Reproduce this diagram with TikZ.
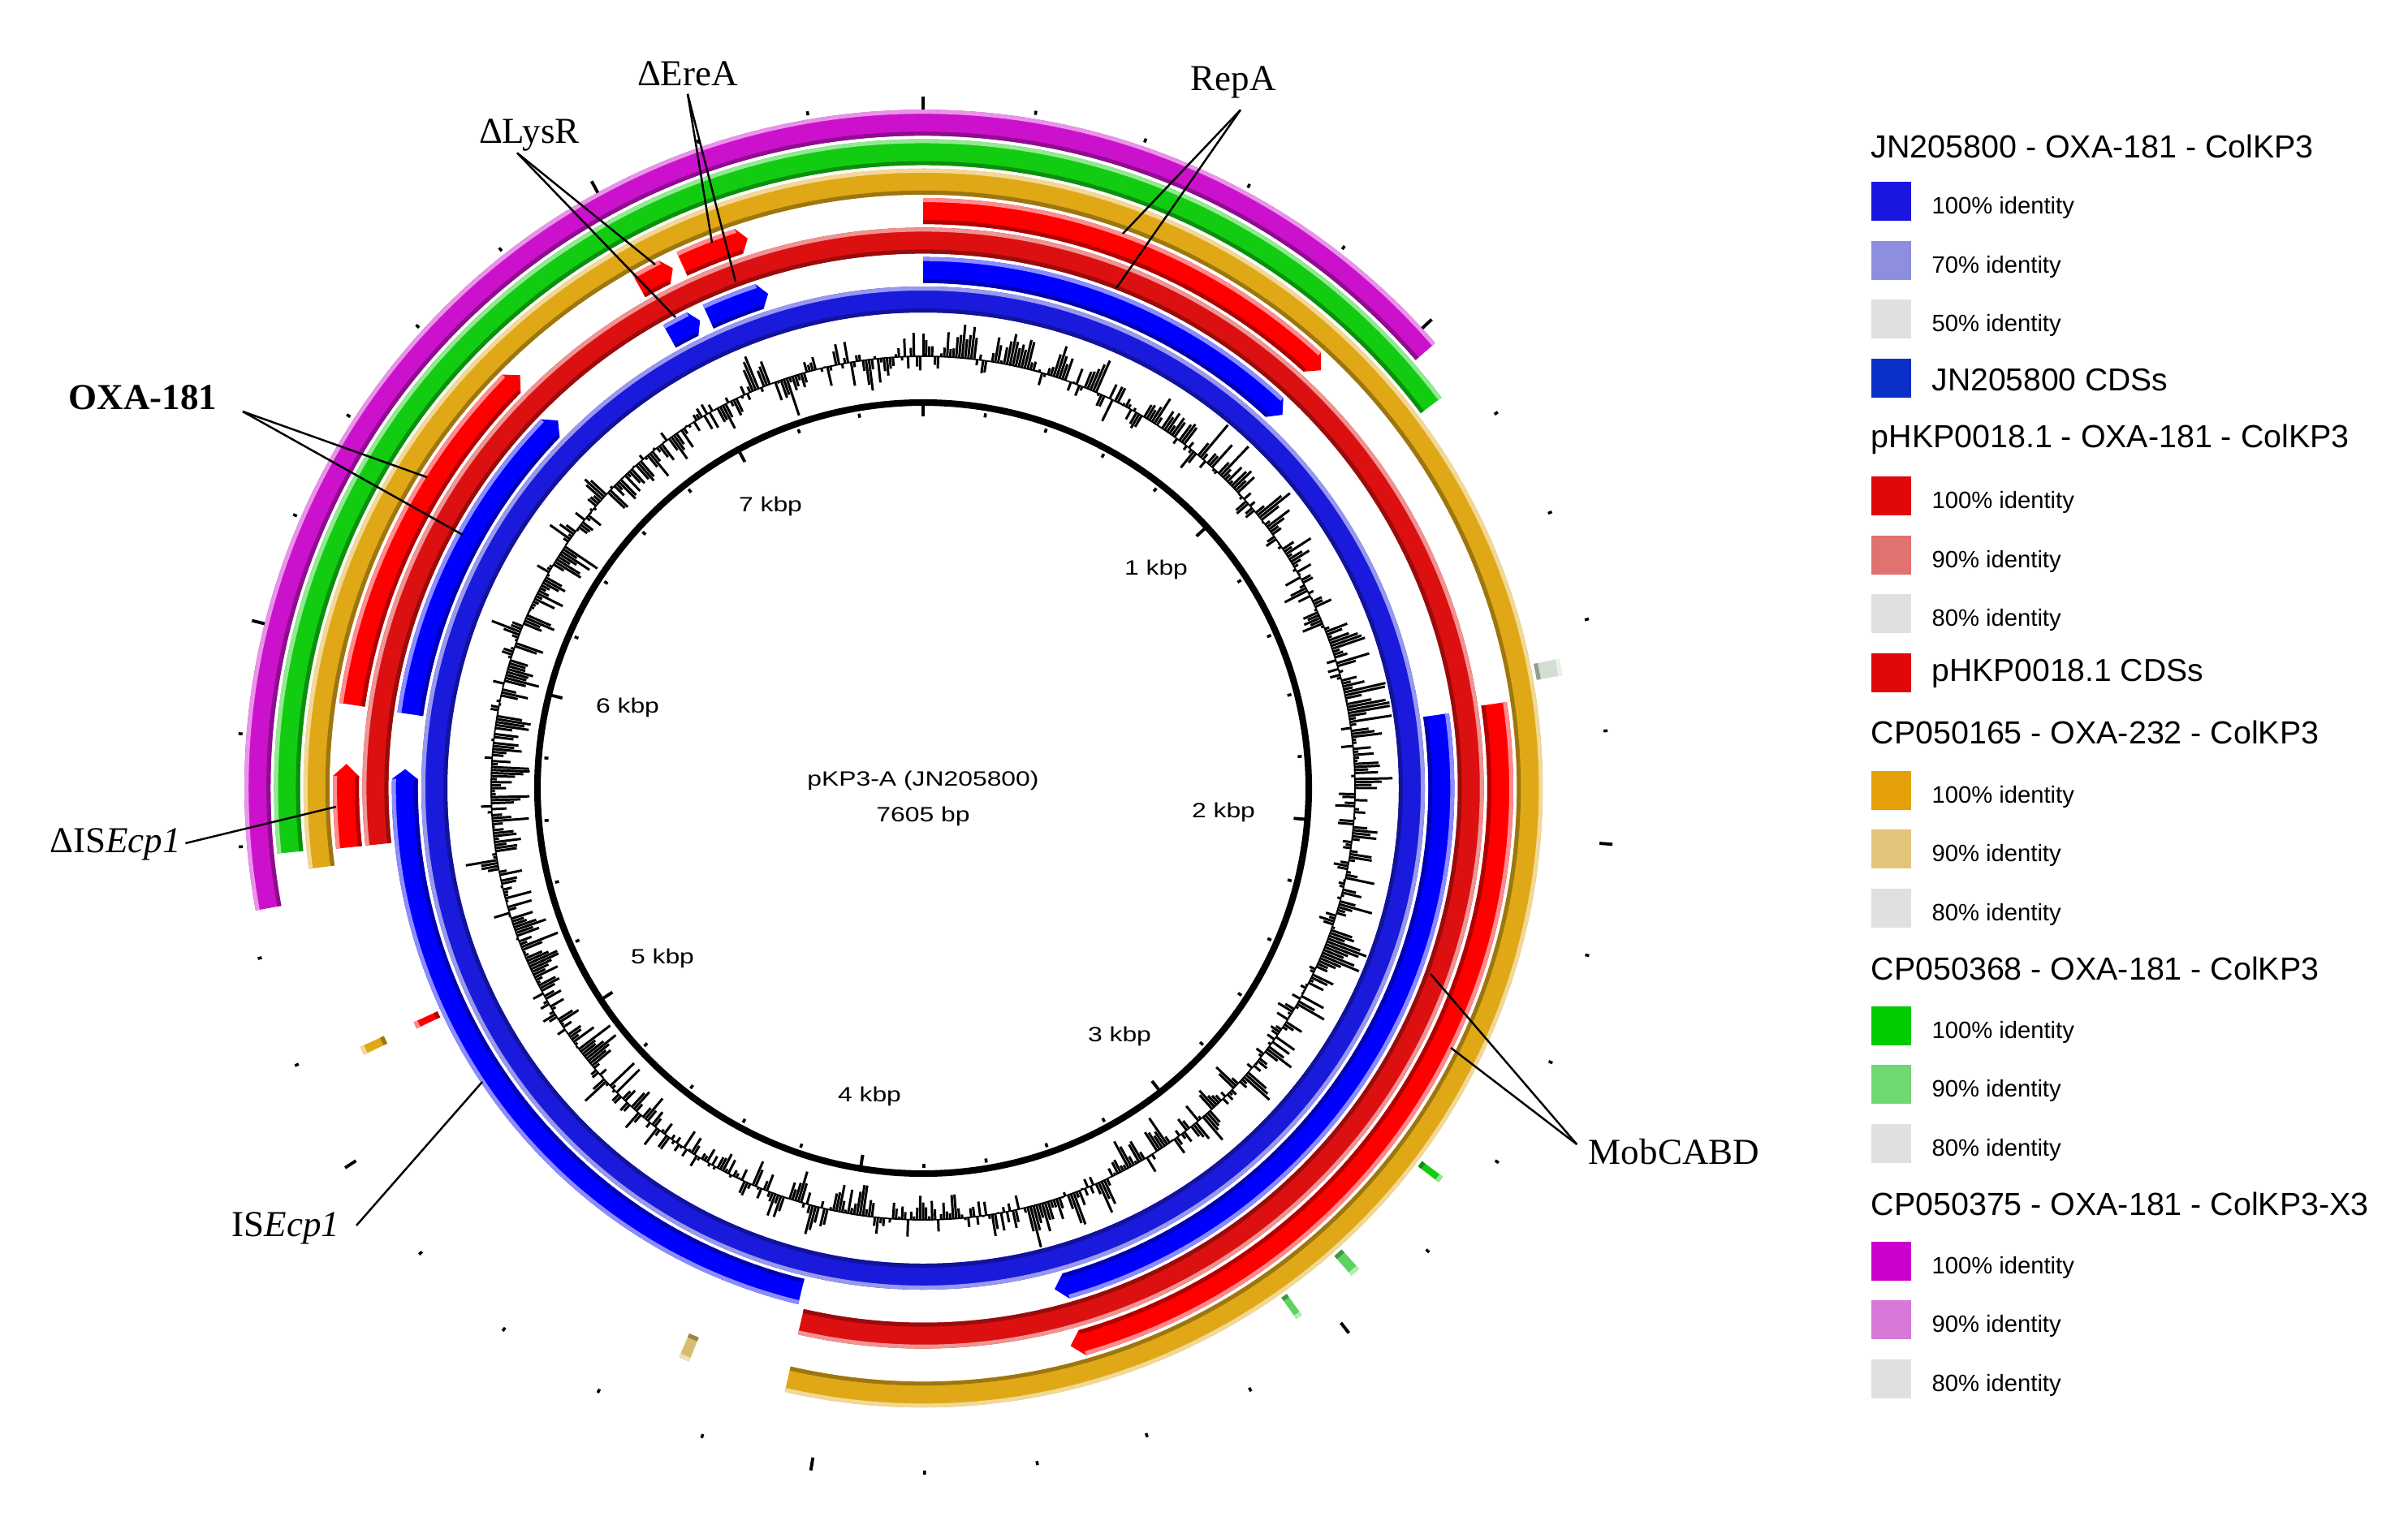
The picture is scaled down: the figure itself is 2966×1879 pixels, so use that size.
\documentclass[tikz,border=0pt]{standalone}
\usepackage{fontspec}
\setmainfont{Liberation Serif}
\newfontfamily\lsans{Liberation Sans}
\newfontfamily\lsansw[FakeStretch=1.25]{Liberation Sans}
\definecolor{cRingBlue}{HTML}{1A1ADC}
\definecolor{cCdsBlue}{HTML}{0000FF}
\definecolor{cRingRed}{HTML}{DC1010}
\definecolor{cCdsRed}{HTML}{FF0000}
\definecolor{cOrange}{HTML}{E0A817}
\definecolor{cGreen}{HTML}{12CC12}
\definecolor{cPurple}{HTML}{CC11CC}
\definecolor{cTan}{HTML}{D9BC72}
\definecolor{cLGreen}{HTML}{5FD35F}
\definecolor{cGrayG}{HTML}{D3DDD3}
\definecolor{lgBlue}{HTML}{1A16E0}
\definecolor{lgBlueS}{HTML}{8E8EE0}
\definecolor{lgBlueCds}{HTML}{0A30C8}
\definecolor{lgRed}{HTML}{E00808}
\definecolor{lgRedS}{HTML}{E07272}
\definecolor{lgOrange}{HTML}{E3A008}
\definecolor{lgOrangeS}{HTML}{E3C47A}
\definecolor{lgGreen}{HTML}{00CC00}
\definecolor{lgGreenS}{HTML}{70D870}
\definecolor{lgPurple}{HTML}{CC00CC}
\definecolor{lgPurpleS}{HTML}{D878D8}
\definecolor{lgGray}{HTML}{E0E0E0}
\newcommand{\ringseg}[5]{%
  \pgfmathsetmacro{\sgRi}{586+36.3*(#2)}%
  \pgfmathsetmacro{\sgRo}{\sgRi+32}%
  \pgfmathsetmacro{\sgRm}{\sgRi+16}%
  \pgfmathsetmacro{\sgRa}{\sgRo-5}%
  \pgfmathsetmacro{\sgRb}{\sgRi+5}%
  \pgfmathsetmacro{\sgA}{90-(#3)}%
  \pgfmathsetmacro{\sgB}{90-(#4)}%
  \pgfmathsetmacro{\sgT}{\sgB-(#5)}%
  \fill[#1] (\sgA:\sgRo) arc[start angle=\sgA,end angle=\sgB,radius=\sgRo] -- (\sgT:\sgRm) -- (\sgB:\sgRi) arc[start angle=\sgB,end angle=\sgA,radius=\sgRi] -- cycle;
  \fill[#1!45!white] (\sgA:\sgRo) arc[start angle=\sgA,end angle=\sgB,radius=\sgRo] -- (\sgB:\sgRa) arc[start angle=\sgB,end angle=\sgA,radius=\sgRa] -- cycle;
  \fill[#1!70!black] (\sgA:\sgRb) arc[start angle=\sgA,end angle=\sgB,radius=\sgRb] -- (\sgB:\sgRi) arc[start angle=\sgB,end angle=\sgA,radius=\sgRi] -- cycle;
}
\newcommand{\swatch}[2]{\fill[#1] (2305,{-(#2)+24}) rectangle (2354,{-(#2)-24});}
\tikzset{
  lgtitle/.style={anchor=west, inner sep=0pt, font=\lsans\fontsize{11.2}{13}\selectfont},
  lgid/.style={anchor=west, inner sep=0pt, font=\lsans\fontsize{8.3}{10}\selectfont},
  lgcds/.style={anchor=west, inner sep=0pt, font=\lsans\fontsize{11.1}{13}\selectfont},
  kbp/.style={inner sep=0pt, font=\lsansw\fontsize{7.25}{9}\selectfont},
  lab/.style={inner sep=0pt, font=\fontsize{12.8}{15}\selectfont},
  leader/.style={draw=black, line width=0.7pt},
}
\begin{document}
\begin{tikzpicture}[x=0.01cm, y=0.01cm]
\fill[white] (0,0) rectangle (2966,-1879);
\useasboundingbox (0,0) rectangle (2966,-1879);
\begin{scope}[shift={(1137,-971)}]
  % ring 0: JN205800 identity
  \ringseg{cRingBlue}{0}{0}{360}{0}
  % ring 1: JN205800 CDSs
  \ringseg{cCdsBlue}{1}{0}{42.7}{1.2}
  \ringseg{cCdsBlue}{1}{81.9}{164.0}{1.3}
  \ringseg{cCdsBlue}{1}{193.6}{271.0}{1.1}
  \ringseg{cCdsBlue}{1}{278.2}{314.0}{1.2}
  \ringseg{cCdsBlue}{1}{330.7}{333.6}{0.9}
  \ringseg{cCdsBlue}{1}{335.5}{341.6}{1.0}
  % ring 2: pHKP0018.1 identity
  \ringseg{cRingRed}{2}{264.1}{552.9}{0}
  \ringseg{cCdsRed}{2}{244.6}{245.3}{0}
  % ring 3: pHKP0018.1 CDSs
  \ringseg{cCdsRed}{3}{0}{42.4}{1.2}
  \ringseg{cCdsRed}{3}{81.6}{164.0}{1.2}
  \ringseg{cCdsRed}{3}{264.1}{271.2}{1.2}
  \ringseg{cCdsRed}{3}{278.3}{314.5}{1.2}
  \ringseg{cCdsRed}{3}{330.5}{333.4}{0.9}
  \ringseg{cCdsRed}{3}{335.3}{341.4}{0.9}
  % ring 4: CP050165
  \ringseg{cOrange}{4}{262.5}{552.9}{0}
  \ringseg{cOrange}{4}{244.5}{245.3}{0}
  \ringseg{cTan}{4}{202.2}{203.2}{0}
  % ring 5: CP050368
  \ringseg{cGreen}{5}{264.2}{413.0}{0}
  \ringseg{cGrayG}{5}{78.5}{80.0}{0}
  \ringseg{cGreen}{5}{126.8}{127.4}{0}
  \ringseg{cLGreen}{5}{137.8}{138.7}{0}
  \ringseg{cLGreen}{5}{144.3}{144.9}{0}
  % ring 6: CP050375
  \ringseg{cPurple}{6}{259.6}{409.0}{0}
  % GC plot
  \pgfmathsetseed{11}
  \gdef\gcPrev{0}
  \foreach \k in {0,...,899} {
    \pgfmathsetmacro{\gcT}{\k*0.4}
    \pgfmathsetmacro{\gcH}{0.5*\gcPrev + 27*rand + 6*sin(\gcT)}
    \global\let\gcPrev\gcH
    \pgfmathsetmacro{\gcD}{max(-48,min(52,\gcH*(1+0.6*(rnd>0.92))))}
    \draw[line width=0.85pt] ({90-\gcT}:532) -- ({90-\gcT}:{532+\gcD});
  }
  \draw[line width=0.5pt] (0,0) circle[radius=532];
  % backbone circle and ticks
  \draw[line width=2.3pt] (0,0) circle[radius=475];
  \foreach \k in {0,...,37} {
    \pgfmathsetmacro{\tkA}{90-\k*200/7605*360}
    \pgfmathtruncatemacro{\tkM}{mod(\k,5)==0}
    \ifnum\tkM=1
      \draw[line width=1.1pt] (\tkA:836) -- (\tkA:852);
      \draw[line width=1.1pt] (\tkA:458) -- (\tkA:473);
    \else
      \draw[line width=1.0pt] (\tkA:841) -- (\tkA:846);
      \draw[line width=1.0pt] (\tkA:463) -- (\tkA:468);
    \fi
  }
\end{scope}
% scale labels
\node[kbp] (k7) at (949,-624) {7 kbp};
\node[kbp] (k1) at (1424,-702) {1 kbp};
\node[kbp] (k6) at (773,-872) {6 kbp};
\node[kbp] (k2) at (1507,-1001) {2 kbp};
\node[kbp] (k5) at (816,-1181) {5 kbp};
\node[kbp] (k3) at (1379,-1277) {3 kbp};
\node[kbp] (k4) at (1071,-1351) {4 kbp};
\node[kbp] (ctitle) at (1137,-962) {pKP3-A (JN205800)};
\node[kbp] (csize) at (1137,-1006) {7605 bp};
% gene labels
\node[lab] (erea) at (847,-91) {ΔEreA};
\node[lab] (lysr) at (652,-166) {ΔLysR};
\node[lab] (repa) at (1519,-101) {RepA};
\node[lab, font=\bfseries\fontsize{12.8}{15}\selectfont] (oxa) at (176,-490) {OXA-181};
\node[lab] (disecp) at (142,-1040) {ΔIS\textit{Ecp1}};
\node[lab] (isecp) at (352,-1513) {IS\textit{Ecp1}};
\node[lab] (mob) at (2062,-1419) {MobCABD};
\coordinate (ereaR) at (877,-299);
\coordinate (ereaB) at (906,-347);
\coordinate (lysrR) at (807,-326);
\coordinate (lysrB) at (832,-391);
\coordinate (repaR) at (1383,-288);
\coordinate (repaB) at (1375,-355);
\coordinate (oxaR) at (526,-588);
\coordinate (oxaB) at (570,-659);
\coordinate (disR) at (414,-994);
\coordinate (isB) at (594,-1333);
\coordinate (mobA) at (1762,-1200);
\coordinate (mobB) at (1787,-1291);
\draw[leader] ([shift={(0,-9)}]erea.south) -- (ereaR);
\draw[leader] ([shift={(0,-9)}]erea.south) -- (ereaB);
\draw[leader] ([shift={(-15,-2)}]lysr.south) -- (lysrR);
\draw[leader] ([shift={(-15,-2)}]lysr.south) -- (lysrB);
\draw[leader] ([shift={(9,-14)}]repa.south) -- (repaR);
\draw[leader] ([shift={(9,-14)}]repa.south) -- (repaB);
\draw[leader] ([shift={(31,-17)}]oxa.east) -- (oxaR);
\draw[leader] ([shift={(31,-17)}]oxa.east) -- (oxaB);
\draw[leader] ([shift={(5,1)}]disecp.east) -- (disR);
\draw[leader] ([shift={(20,3)}]isecp.east) -- (isB);
\draw[leader] ([shift={(-14,9)}]mob.west) -- (mobA);
\draw[leader] ([shift={(-14,9)}]mob.west) -- (mobB);
% legend
\node[lgtitle] (t1) at (2304,-180) {JN205800 - OXA-181 - ColKP3};
\swatch{lgBlue}{248} \node[lgid] (t1a) at (2379,-256) {100\% identity};
\swatch{lgBlueS}{321} \node[lgid] (t1b) at (2379,-329) {70\% identity};
\swatch{lgGray}{393} \node[lgid] (t1c) at (2379,-401) {50\% identity};
\swatch{lgBlueCds}{466} \node[lgcds] (t1d) at (2379,-468) {JN205800 CDSs};
\node[lgtitle] (t2) at (2304,-541) {pHKP0018.1 - OXA-181 - ColKP3};
\swatch{lgRed}{611} \node[lgid] (t2a) at (2379,-619) {100\% identity};
\swatch{lgRedS}{684} \node[lgid] (t2b) at (2379,-692) {90\% identity};
\swatch{lgGray}{756} \node[lgid] (t2c) at (2379,-764) {80\% identity};
\swatch{lgRed}{829} \node[lgcds] (t2d) at (2379,-830) {pHKP0018.1 CDSs};
\node[lgtitle] (t3) at (2304,-902) {CP050165 - OXA-232 - ColKP3};
\swatch{lgOrange}{974} \node[lgid] (t3a) at (2379,-982) {100\% identity};
\swatch{lgOrangeS}{1046} \node[lgid] (t3b) at (2379,-1054) {90\% identity};
\swatch{lgGray}{1119} \node[lgid] (t3c) at (2379,-1127) {80\% identity};
\node[lgtitle] (t4) at (2304,-1193) {CP050368 - OXA-181 - ColKP3};
\swatch{lgGreen}{1264} \node[lgid] (t4a) at (2379,-1272) {100\% identity};
\swatch{lgGreenS}{1336} \node[lgid] (t4b) at (2379,-1344) {90\% identity};
\swatch{lgGray}{1409} \node[lgid] (t4c) at (2379,-1417) {80\% identity};
\node[lgtitle] (t5) at (2304,-1483) {CP050375 - OXA-181 - ColKP3-X3};
\swatch{lgPurple}{1554} \node[lgid] (t5a) at (2379,-1562) {100\% identity};
\swatch{lgPurpleS}{1626} \node[lgid] (t5b) at (2379,-1634) {90\% identity};
\swatch{lgGray}{1699} \node[lgid] (t5c) at (2379,-1707) {80\% identity};
\end{tikzpicture}
\end{document}
